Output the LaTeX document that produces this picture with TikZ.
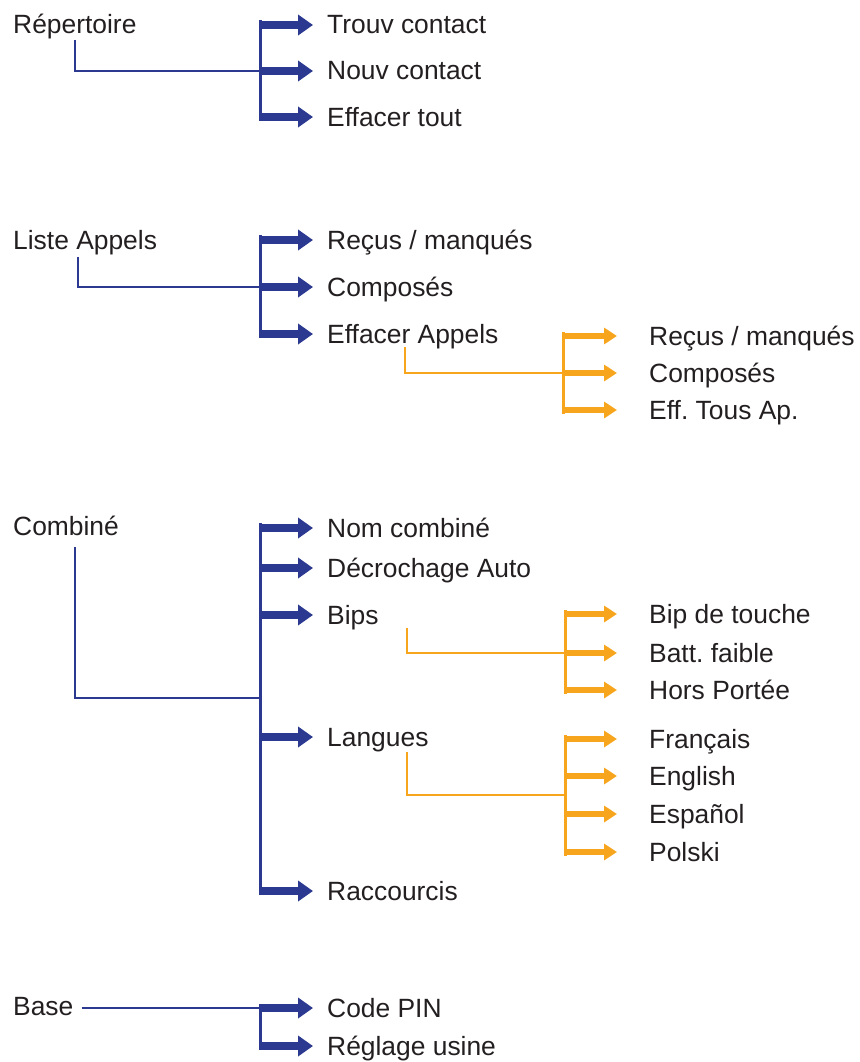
\documentclass[tikz,border=0pt]{standalone}
\usepackage{fontspec}
\setmainfont{Liberation Sans}
\usetikzlibrary{arrows.meta}
\definecolor{navy}{HTML}{2B3990}
\definecolor{amber}{HTML}{F7A51D}
\definecolor{ink}{HTML}{231F20}
\frenchspacing
% blue item: name, arrow y, text
\newcommand\bluitem[3]{%
  \node[lbl] (#1) at (327,#2+9) {#3};
  \path (#1.base west) ++(-14,-9) coordinate (#1a);}
\newcommand\ambitem[3]{%
  \node[lbl] (#1) at (649,#2+9) {#3};
  \path (#1.base west) ++(-32,-9) coordinate (#1a);}
\begin{document}
\begin{tikzpicture}[x=1pt,y=-1pt,
  lbl/.style={anchor=base west, inner sep=0pt, text=ink, font=\fontsize{26.4}{30}\selectfont},
  bluebar/.style={draw=navy, line width=3pt},
  blueline/.style={draw=navy, line width=2pt},
  bluearrow/.style={draw=navy, line width=8pt, -{Triangle[length=15pt,width=20pt,fill=navy]}},
  ambbar/.style={draw=amber, line width=3pt},
  ambline/.style={draw=amber, line width=2pt},
  ambarrow/.style={draw=amber, line width=6pt, -{Triangle[length=13pt,width=16pt,fill=amber]}}]
\useasboundingbox (0,0) rectangle (859,1062);

% ---------- Section 1 ----------
\node[lbl] (rep) at (13,34) {Répertoire};
\bluitem{s1a}{25}{Trouv contact}
\bluitem{s1b}{71}{Nouv contact}
\bluitem{s1c}{117}{Effacer tout}
\coordinate (b1t) at (260,20);
\coordinate (b1b) at (260,121);
\coordinate (rep-d) at (75,40);
\draw[bluebar] (b1t) -- (b1b);
\draw[blueline] (rep-d) |- (b1t |- s1ba);
\foreach \n in {s1a,s1b,s1c} \draw[bluearrow] (b1t |- \n a) -- (\n a);

% ---------- Section 2 ----------
\node[lbl] (la) at (13,249) {Liste Appels};
\bluitem{s2a}{240}{Reçus / manqués}
\bluitem{s2b}{287}{Composés}
\bluitem{s2c}{334}{Effacer Appels}
\coordinate (b2t) at (260,235);
\coordinate (b2b) at (260,338);
\coordinate (la-d) at (78,257);
\draw[bluebar] (b2t) -- (b2b);
\draw[blueline] (la-d) |- (b2t |- s2ba);
\foreach \n in {s2a,s2b,s2c} \draw[bluearrow] (b2t |- \n a) -- (\n a);

\ambitem{e1}{336}{Reçus / manqués}
\ambitem{e2}{373}{Composés}
\ambitem{e3}{410}{Eff. Tous Ap.}
\coordinate (o1t) at (563,332);
\coordinate (o1b) at (563,414);
\coordinate (ea-d) at (405,347);
\draw[ambbar] (o1t) -- (o1b);
\draw[ambline] (ea-d) |- (o1t |- e2a);
\foreach \n in {e1,e2,e3} \draw[ambarrow] (o1t |- \n a) -- (\n a);

% ---------- Section 3 ----------
\node[lbl] (cb) at (13,535) {Combiné};
\bluitem{s3a}{528}{Nom combiné}
\bluitem{s3b}{568}{Décrochage Auto}
\bluitem{s3c}{615}{Bips}
\bluitem{s3d}{737}{Langues}
\bluitem{s3e}{891}{Raccourcis}
\coordinate (b3t) at (260,523);
\coordinate (b3b) at (260,895);
\coordinate (cb-d) at (75,547);
\coordinate (cb-h) at (262,698);
\draw[bluebar] (b3t) -- (b3b);
\draw[blueline] (cb-d) |- (cb-h);
\foreach \n in {s3a,s3b,s3c,s3d,s3e} \draw[bluearrow] (b3t |- \n a) -- (\n a);

\ambitem{bp1}{614}{Bip de touche}
\ambitem{bp2}{653}{Batt. faible}
\ambitem{bp3}{690}{Hors Portée}
\coordinate (o2t) at (565,610);
\coordinate (o2b) at (565,694);
\coordinate (bp-d) at (407,628);
\draw[ambbar] (o2t) -- (o2b);
\draw[ambline] (bp-d) |- (o2t |- bp2a);
\foreach \n in {bp1,bp2,bp3} \draw[ambarrow] (o2t |- \n a) -- (\n a);

\ambitem{lg1}{739}{Français}
\ambitem{lg2}{776}{English}
\ambitem{lg3}{814}{Español}
\ambitem{lg4}{852}{Polski}
\coordinate (o3t) at (565,735);
\coordinate (o3b) at (565,856);
\coordinate (lg-d) at (407,752);
\coordinate (lg-h) at (565,795);
\draw[ambbar] (o3t) -- (o3b);
\draw[ambline] (lg-d) |- (lg-h);
\foreach \n in {lg1,lg2,lg3,lg4} \draw[ambarrow] (o3t |- \n a) -- (\n a);

% ---------- Section 4 ----------
\node[lbl] (bs) at (13,1015) {Base};
\bluitem{s4a}{1008}{Code PIN}
\bluitem{s4b}{1046}{Réglage usine}
\coordinate (b4t) at (260,1004);
\coordinate (b4b) at (260,1050);
\draw[bluebar] (b4t) -- (b4b);
\path (bs.base east) ++(8,-7) coordinate (bs-e);
\draw[blueline] (bs-e) -- (b4t |- s4aa);
\foreach \n in {s4a,s4b} \draw[bluearrow] (b4t |- \n a) -- (\n a);
\end{tikzpicture}
\end{document}
